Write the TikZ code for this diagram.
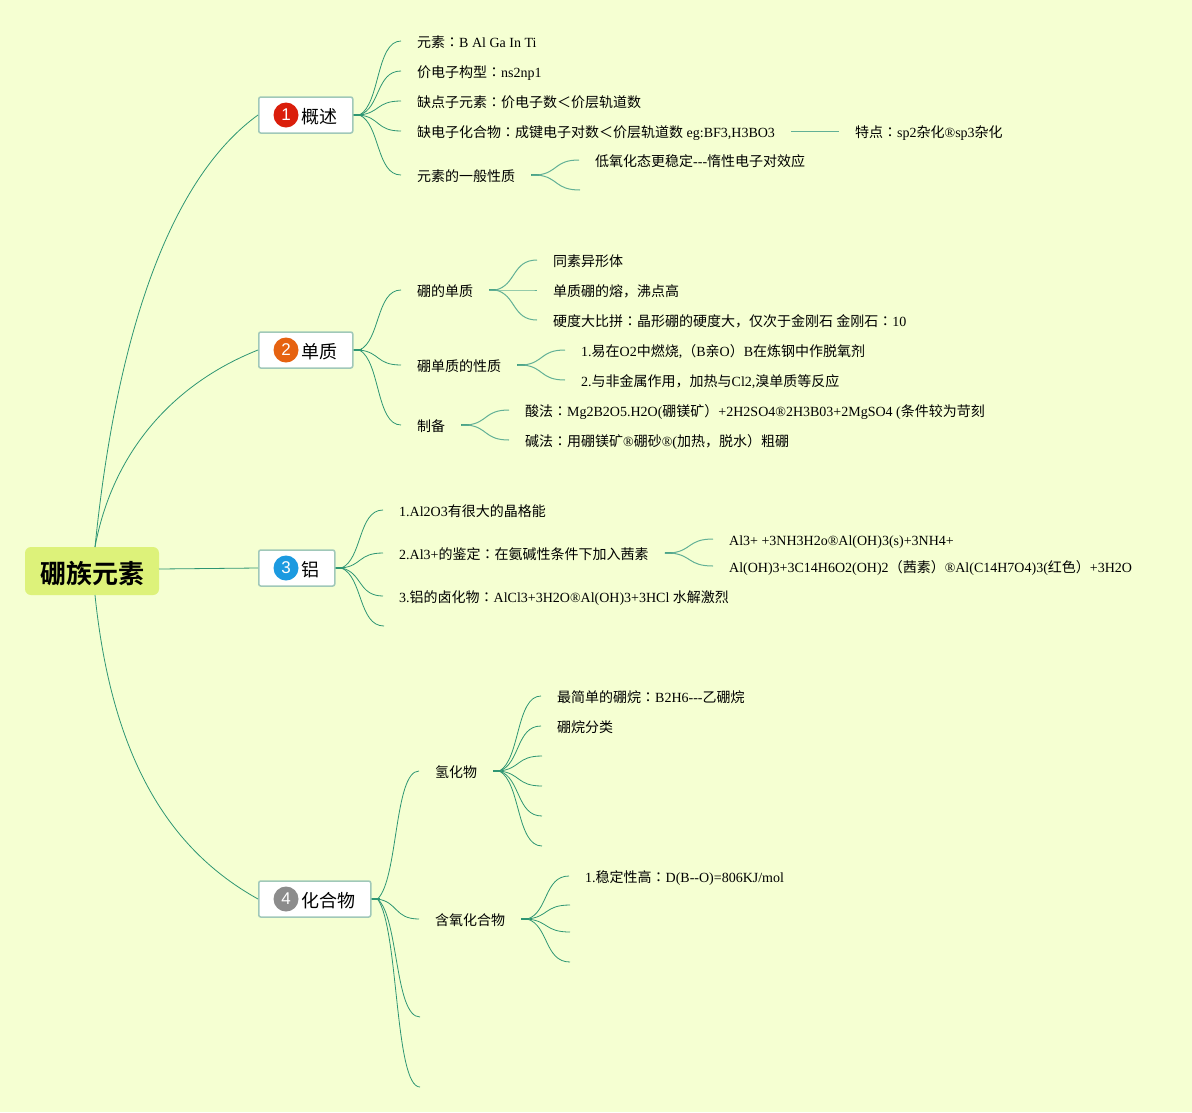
\documentclass[tikz,border=0pt]{standalone}
\usepackage{fontspec}
\usepackage{xcolor}
\usetikzlibrary{calc}
\setmainfont{Liberation Serif}
\setsansfont{Liberation Sans}
\newfontfamily\cjk[BoldFont={Noto Sans CJK SC Bold}]{Noto Sans CJK SC}
\newfontfamily\jpn{Noto Sans CJK JP}
\newcommand{\zh}[1]{{\cjk #1}}
\newcommand{\cn}{{\jpn ：}}
\definecolor{paper}{RGB}{245, 255, 210}
\definecolor{rootfill}{RGB}{221, 242, 122}
\definecolor{linkgreen}{RGB}{46, 150, 115}
\definecolor{boxedge}{RGB}{160, 200, 185}
\definecolor{badgered}{RGB}{218, 30, 11}
\definecolor{badgeorange}{RGB}{230, 98, 16}
\definecolor{badgeblue}{RGB}{28, 154, 224}
\definecolor{badgegray}{RGB}{140, 140, 140}

\begin{document}
\begin{tikzpicture}[
    x=1pt, y=-1pt,
    rootnode/.style={
        rectangle,
        rounded corners=6pt,
        fill=rootfill,
        minimum width=134pt,
        minimum height=48pt,
        align=center,
        text height=26pt,
        text depth=2pt,
        font=\fontsize{26}{30}\selectfont\cjk\bfseries
    },
    topicnode/.style={
        rectangle,
        rounded corners=2pt,
        draw=boxedge,
        line width=1.5pt,
        fill=white,
        anchor=west,
        minimum height=36pt,
        inner xsep=15pt,
        inner ysep=0pt,
        text height=18pt,
        text depth=2pt,
        font=\fontsize{18}{22}\selectfont\cjk
    },
    badge/.style={
        circle,
        minimum size=25pt,
        inner sep=0pt,
        text=white,
        font=\fontsize{17}{20}\selectfont\sffamily
    },
    leaf/.style={
        anchor=west,
        inner xsep=16pt,
        inner ysep=0pt,
        text height=13pt,
        text depth=1pt,
        font=\fontsize{14}{16}\selectfont
    },
    link/.style={line width=0.8pt, color=linkgreen},
    sublink/.style={line width=1pt, color=linkgreen!75},
    stub/.style={line width=1.5pt, color=linkgreen},
    fan/.style={to path={
        .. controls ($(\tikztostart)!0.5!($(\tikztotarget |- \tikztostart)!0.3!(\tikztotarget)$)$)
        and ($(\tikztotarget)!0.6!(\tikztostart |- \tikztotarget)$) .. (\tikztotarget)}}
]
    \useasboundingbox[fill=paper] (0,0) rectangle (1192,1112);

    % Root
    \node[rootnode] (root) at (92,571) {硼族元素};
    \coordinate (rootup) at (95,547);
    \coordinate (rootmid) at (159,569);
    \coordinate (rootdown) at (95,595);

    % Topics
    \node[topicnode] (t1) at (258,115) {\hspace*{28pt}概述};
    \node[topicnode] (t2) at (258,350) {\hspace*{28pt}单质};
    \node[topicnode] (t3) at (258,568) {\hspace*{28pt}铝};
    \node[topicnode] (t4) at (258,899) {\hspace*{28pt}化合物};
    \node[badge, fill=badgered] (b1) at ($(t1.west)+(28,0)$) {1};
    \node[badge, fill=badgeorange] (b2) at ($(t2.west)+(28,0)$) {2};
    \node[badge, fill=badgeblue] (b3) at ($(t3.west)+(28,0)$) {3};
    \node[badge, fill=badgegray] (b4) at ($(t4.west)+(28,0)$) {4};

    % Root links
    \draw[link] (rootup) .. controls (118,320) and (175,175) .. (t1.west);
    \draw[link] (rootup) .. controls (112,455) and (170,385) .. (t2.west);
    \draw[link] (rootmid) -- (t3.west);
    \draw[link] (rootdown) .. controls (112,760) and (170,850) .. (t4.west);

    % Topic 1
    \node[leaf] (a1) at (401,41) {\zh{元素}\cn B Al Ga In Ti};
    \node[leaf] (a2) at (401,71) {\zh{价电子构型}\cn ns2np1};
    \node[leaf] (a3) at (401,101) {\zh{缺点子元素}\cn\zh{价电子数＜价层轨道数}};
    \node[leaf] (a4) at (401,131) {\zh{缺电子化合物}\cn\zh{成键电子对数＜价层轨道数} eg:BF3,H3BO3};
    \node[leaf] (a5) at (401,175) {\zh{元素的一般性质}};
    \node[leaf] (a41) at (839,131) {\zh{特点}\cn sp2\zh{杂化}®sp3\zh{杂化}};
    \node[leaf] (a51) at (579,160) {\zh{低氧化态更稳定}-{}-{}-\zh{惰性电子对效应}};
    \coordinate (a52) at (580,190);
    \draw[stub] (t1.east) -- ++(8,0);
    \foreach \kid in {a1,a2,a3,a4,a5}
        \draw[link] (t1.east) -- ++(6,0) to[fan] (\kid.west);
    \draw[sublink] (a4.east) -- (a41.west);
    \draw[stub] (a5.east) -- ++(8,0);
    \draw[sublink] (a5.east) -- ++(6,0) to[fan] (a51.west);
    \draw[sublink] (a5.east) -- ++(6,0) to[fan] (a52);

    % Topic 2
    \node[leaf] (c1) at (401,290) {\zh{硼的单质}};
    \node[leaf] (c2) at (401,365) {\zh{硼单质的性质}};
    \node[leaf] (c3) at (401,425) {\zh{制备}};
    \node[leaf] (c11) at (537,260) {\zh{同素异形体}};
    \node[leaf] (c12) at (537,290) {\zh{单质硼的熔，沸点高}};
    \node[leaf] (c13) at (537,320) {\zh{硬度大比拼}\cn\zh{晶形硼的硬度大，仅次于金刚石 金刚石}\cn 10};
    \node[leaf] (c21) at (565,350) {1.\zh{易在}O2\zh{中燃烧},\zh{（}B\zh{亲}O\zh{）}B\zh{在炼钢中作脱氧剂}};
    \node[leaf] (c22) at (565,380) {2.\zh{与非金属作用，加热与}Cl2,\zh{溴单质等反应}};
    \node[leaf] (c31) at (509,410) {\zh{酸法}\cn Mg2B2O5.H2O(\zh{硼镁矿}\zh{）}+2H2SO4®2H3B03+2MgSO4 (\zh{条件较为苛刻}};
    \node[leaf] (c32) at (509,440) {\zh{碱法}\cn\zh{用硼镁矿}®\zh{硼砂}®(\zh{加热，脱水}\zh{）}\zh{粗硼}};
    \draw[stub] (t2.east) -- ++(8,0);
    \foreach \kid in {c1,c2,c3}
        \draw[link] (t2.east) -- ++(6,0) to[fan] (\kid.west);
    \draw[stub] (c1.east) -- ++(8,0);
    \foreach \kid in {c11,c12,c13}
        \draw[sublink] (c1.east) -- ++(6,0) to[fan] (\kid.west);
    \draw[stub] (c2.east) -- ++(8,0);
    \foreach \kid in {c21,c22}
        \draw[sublink] (c2.east) -- ++(6,0) to[fan] (\kid.west);
    \draw[stub] (c3.east) -- ++(8,0);
    \foreach \kid in {c31,c32}
        \draw[sublink] (c3.east) -- ++(6,0) to[fan] (\kid.west);

    % Topic 3
    \node[leaf] (d1) at (383,510) {1.Al2O3\zh{有很大的晶格能}};
    \node[leaf] (d2) at (383,553) {2.Al3+\zh{的鉴定}\cn\zh{在氨碱性条件下加入茜素}};
    \node[leaf] (d3) at (383,596) {3.\zh{铝的卤化物}\cn AlCl3+3H2O®Al(OH)3+3HCl \zh{水解激烈}};
    \coordinate (d4) at (384,626);
    \node[leaf] (d21) at (713,539) {Al3+ +3NH3H2o®Al(OH)3(s)+3NH4+};
    \node[leaf] (d22) at (713,566) {Al(OH)3+3C14H6O2(OH)2\zh{（茜素）}®Al(C14H7O4)3(\zh{红色）}+3H2O};
    \draw[stub] (t3.east) -- ++(8,0);
    \foreach \kid in {d1.west,d2.west,d3.west,d4}
        \draw[link] (t3.east) -- ++(6,0) to[fan] (\kid);
    \draw[stub] (d2.east) -- ++(8,0);
    \foreach \kid in {d21,d22}
        \draw[sublink] (d2.east) -- ++(6,0) to[fan] (\kid.west);

    % Topic 4
    \node[leaf] (e1) at (419,771) {\zh{氢化物}};
    \node[leaf] (e2) at (419,919) {\zh{含氧化合物}};
    \coordinate (e3) at (420,1017);
    \coordinate (e4) at (420,1087);
    \node[leaf] (e11) at (541,696) {\zh{最简单的硼烷}\cn B2H6-{}-{}-\zh{乙硼烷}};
    \node[leaf] (e12) at (541,726) {\zh{硼烷分类}};
    \coordinate (e13) at (542,756);
    \coordinate (e14) at (542,786);
    \coordinate (e15) at (542,816);
    \coordinate (e16) at (542,846);
    \node[leaf] (e21) at (569,876) {1.\zh{稳定性高}\cn D(B-{}-O)=806KJ/mol};
    \coordinate (e22) at (570,905);
    \coordinate (e23) at (570,932);
    \coordinate (e24) at (570,962);
    \draw[stub] (t4.east) -- ++(8,0);
    \foreach \kid in {e1.west,e2.west,e3,e4}
        \draw[link] (t4.east) -- ++(6,0) to[fan] (\kid);
    \draw[stub] (e1.east) -- ++(8,0);
    \foreach \kid in {e11.west,e12.west,e13,e14,e15,e16}
        \draw[link] (e1.east) -- ++(6,0) to[fan] (\kid);
    \draw[stub] (e2.east) -- ++(8,0);
    \foreach \kid in {e21.west,e22,e23,e24}
        \draw[link] (e2.east) -- ++(6,0) to[fan] (\kid);
\end{tikzpicture}
\end{document}
